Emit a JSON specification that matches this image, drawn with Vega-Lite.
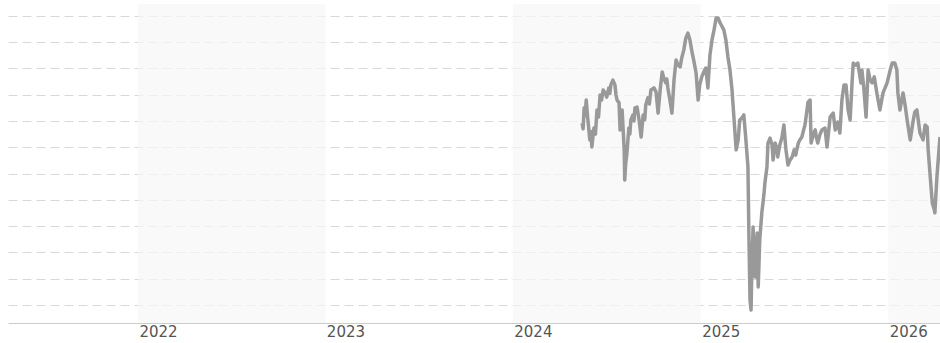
{
  "$schema": "https://vega.github.io/schema/vega-lite/v6.json",
  "autosize": {"type": "none"},
  "width": 932,
  "height": 319,
  "padding": {"left": 8, "top": 4, "right": 0, "bottom": 20},
  "background": "white",
  "config": {"view": {"stroke": null}},
  "datasets": {
    "bands": [
      {"start": "2022-01-01", "end": "2023-01-01"},
      {"start": "2024-01-01", "end": "2025-01-01"},
      {"start": "2026-01-01", "end": "2027-01-01"}
    ],
    "prices": [
      {"date": "2024-05-15", "value": 792},
      {"date": "2024-05-17", "value": 770},
      {"date": "2024-05-19", "value": 850},
      {"date": "2024-05-21", "value": 820},
      {"date": "2024-05-23", "value": 880},
      {"date": "2024-05-26", "value": 811},
      {"date": "2024-05-30", "value": 728},
      {"date": "2024-06-01", "value": 760},
      {"date": "2024-06-03", "value": 701},
      {"date": "2024-06-07", "value": 773},
      {"date": "2024-06-10", "value": 750},
      {"date": "2024-06-13", "value": 842},
      {"date": "2024-06-16", "value": 815},
      {"date": "2024-06-19", "value": 899},
      {"date": "2024-06-22", "value": 880},
      {"date": "2024-06-25", "value": 918},
      {"date": "2024-06-29", "value": 907},
      {"date": "2024-07-02", "value": 891},
      {"date": "2024-07-06", "value": 926},
      {"date": "2024-07-08", "value": 905},
      {"date": "2024-07-10", "value": 937},
      {"date": "2024-07-14", "value": 956},
      {"date": "2024-07-18", "value": 937},
      {"date": "2024-07-20", "value": 900},
      {"date": "2024-07-22", "value": 880},
      {"date": "2024-07-26", "value": 869},
      {"date": "2024-07-28", "value": 766},
      {"date": "2024-08-01", "value": 842},
      {"date": "2024-08-05", "value": 690},
      {"date": "2024-08-06", "value": 575},
      {"date": "2024-08-08", "value": 640},
      {"date": "2024-08-10", "value": 671},
      {"date": "2024-08-14", "value": 773},
      {"date": "2024-08-16", "value": 750},
      {"date": "2024-08-18", "value": 804},
      {"date": "2024-08-22", "value": 823},
      {"date": "2024-08-24", "value": 800},
      {"date": "2024-08-26", "value": 850},
      {"date": "2024-08-30", "value": 853},
      {"date": "2024-09-03", "value": 804},
      {"date": "2024-09-07", "value": 739},
      {"date": "2024-09-11", "value": 823},
      {"date": "2024-09-14", "value": 805},
      {"date": "2024-09-16", "value": 861},
      {"date": "2024-09-20", "value": 888},
      {"date": "2024-09-23", "value": 865},
      {"date": "2024-09-26", "value": 918},
      {"date": "2024-10-02", "value": 926},
      {"date": "2024-10-06", "value": 911},
      {"date": "2024-10-10", "value": 830},
      {"date": "2024-10-14", "value": 918},
      {"date": "2024-10-18", "value": 987},
      {"date": "2024-10-21", "value": 964},
      {"date": "2024-10-25", "value": 945},
      {"date": "2024-10-27", "value": 960},
      {"date": "2024-10-29", "value": 926},
      {"date": "2024-11-02", "value": 880},
      {"date": "2024-11-06", "value": 830},
      {"date": "2024-11-10", "value": 956},
      {"date": "2024-11-14", "value": 1032},
      {"date": "2024-11-18", "value": 1013},
      {"date": "2024-11-22", "value": 1006},
      {"date": "2024-11-25", "value": 1040},
      {"date": "2024-11-29", "value": 1070},
      {"date": "2024-12-03", "value": 1116},
      {"date": "2024-12-07", "value": 1135},
      {"date": "2024-12-11", "value": 1109},
      {"date": "2024-12-15", "value": 1063},
      {"date": "2024-12-19", "value": 1025},
      {"date": "2024-12-23", "value": 983},
      {"date": "2024-12-27", "value": 880},
      {"date": "2024-12-30", "value": 937},
      {"date": "2025-01-03", "value": 968},
      {"date": "2025-01-07", "value": 987},
      {"date": "2025-01-11", "value": 1002},
      {"date": "2025-01-15", "value": 926},
      {"date": "2025-01-19", "value": 1051},
      {"date": "2025-01-23", "value": 1109},
      {"date": "2025-01-27", "value": 1147},
      {"date": "2025-01-31", "value": 1192},
      {"date": "2025-02-04", "value": 1192},
      {"date": "2025-02-07", "value": 1177},
      {"date": "2025-02-11", "value": 1162},
      {"date": "2025-02-15", "value": 1147},
      {"date": "2025-02-19", "value": 1109},
      {"date": "2025-02-23", "value": 1044},
      {"date": "2025-02-27", "value": 994},
      {"date": "2025-03-03", "value": 918},
      {"date": "2025-03-07", "value": 804},
      {"date": "2025-03-11", "value": 690},
      {"date": "2025-03-15", "value": 728},
      {"date": "2025-03-18", "value": 804},
      {"date": "2025-03-22", "value": 811},
      {"date": "2025-03-26", "value": 823},
      {"date": "2025-03-30", "value": 728},
      {"date": "2025-04-03", "value": 625},
      {"date": "2025-04-05", "value": 347},
      {"date": "2025-04-07", "value": 118},
      {"date": "2025-04-09", "value": 80},
      {"date": "2025-04-11", "value": 271},
      {"date": "2025-04-13", "value": 396},
      {"date": "2025-04-17", "value": 206},
      {"date": "2025-04-21", "value": 373},
      {"date": "2025-04-23", "value": 168},
      {"date": "2025-04-26", "value": 347},
      {"date": "2025-04-30", "value": 450},
      {"date": "2025-05-04", "value": 518},
      {"date": "2025-05-06", "value": 564},
      {"date": "2025-05-10", "value": 625},
      {"date": "2025-05-12", "value": 716},
      {"date": "2025-05-16", "value": 735},
      {"date": "2025-05-20", "value": 709},
      {"date": "2025-05-22", "value": 651},
      {"date": "2025-05-26", "value": 716},
      {"date": "2025-05-30", "value": 690},
      {"date": "2025-05-31", "value": 663},
      {"date": "2025-06-04", "value": 709},
      {"date": "2025-06-08", "value": 735},
      {"date": "2025-06-12", "value": 785},
      {"date": "2025-06-16", "value": 690},
      {"date": "2025-06-20", "value": 632},
      {"date": "2025-06-24", "value": 651},
      {"date": "2025-06-28", "value": 663},
      {"date": "2025-07-02", "value": 690},
      {"date": "2025-07-05", "value": 670},
      {"date": "2025-07-07", "value": 690},
      {"date": "2025-07-10", "value": 715},
      {"date": "2025-07-13", "value": 728},
      {"date": "2025-07-17", "value": 739},
      {"date": "2025-07-23", "value": 785},
      {"date": "2025-07-27", "value": 842},
      {"date": "2025-07-29", "value": 872},
      {"date": "2025-08-02", "value": 880},
      {"date": "2025-08-04", "value": 716},
      {"date": "2025-08-08", "value": 747},
      {"date": "2025-08-12", "value": 766},
      {"date": "2025-08-14", "value": 740},
      {"date": "2025-08-17", "value": 716},
      {"date": "2025-08-21", "value": 747},
      {"date": "2025-08-25", "value": 766},
      {"date": "2025-08-31", "value": 773},
      {"date": "2025-09-04", "value": 701},
      {"date": "2025-09-10", "value": 815},
      {"date": "2025-09-16", "value": 830},
      {"date": "2025-09-20", "value": 766},
      {"date": "2025-09-25", "value": 796},
      {"date": "2025-09-29", "value": 754},
      {"date": "2025-10-03", "value": 880},
      {"date": "2025-10-07", "value": 937},
      {"date": "2025-10-11", "value": 937},
      {"date": "2025-10-15", "value": 842},
      {"date": "2025-10-19", "value": 804},
      {"date": "2025-10-23", "value": 956},
      {"date": "2025-10-25", "value": 1021},
      {"date": "2025-10-30", "value": 1013},
      {"date": "2025-11-03", "value": 1021},
      {"date": "2025-11-09", "value": 945},
      {"date": "2025-11-11", "value": 994},
      {"date": "2025-11-15", "value": 918},
      {"date": "2025-11-19", "value": 815},
      {"date": "2025-11-23", "value": 994},
      {"date": "2025-11-27", "value": 956},
      {"date": "2025-12-01", "value": 945},
      {"date": "2025-12-05", "value": 968},
      {"date": "2025-12-10", "value": 907},
      {"date": "2025-12-16", "value": 842},
      {"date": "2025-12-22", "value": 907},
      {"date": "2025-12-26", "value": 926},
      {"date": "2025-12-30", "value": 945},
      {"date": "2026-01-05", "value": 994},
      {"date": "2026-01-09", "value": 1021},
      {"date": "2026-01-14", "value": 1021},
      {"date": "2026-01-18", "value": 994},
      {"date": "2026-01-20", "value": 907},
      {"date": "2026-01-24", "value": 842},
      {"date": "2026-01-30", "value": 907},
      {"date": "2026-02-03", "value": 861},
      {"date": "2026-02-07", "value": 804},
      {"date": "2026-02-13", "value": 728},
      {"date": "2026-02-19", "value": 804},
      {"date": "2026-02-22", "value": 834},
      {"date": "2026-02-26", "value": 842},
      {"date": "2026-03-04", "value": 754},
      {"date": "2026-03-10", "value": 728},
      {"date": "2026-03-14", "value": 785},
      {"date": "2026-03-18", "value": 777},
      {"date": "2026-03-20", "value": 690},
      {"date": "2026-03-24", "value": 587},
      {"date": "2026-03-28", "value": 488},
      {"date": "2026-04-01", "value": 461},
      {"date": "2026-04-02", "value": 450},
      {"date": "2026-04-06", "value": 587},
      {"date": "2026-04-10", "value": 690},
      {"date": "2026-04-12", "value": 739}
    ]
  },
  "layer": [
    {
      "data": {"name": "bands"},
      "mark": {"type": "rect", "fill": "#f7f7f7", "opacity": 0.7, "clip": true},
      "encoding": {
        "x": {
          "field": "start",
          "type": "temporal",
          "scale": {"type": "utc", "domain": ["2021-04-23", "2026-04-12"]},
          "axis": {
            "values": [
              {"year": 2022, "month": 1, "date": 1, "utc": true},
              {"year": 2023, "month": 1, "date": 1, "utc": true},
              {"year": 2024, "month": 1, "date": 1, "utc": true},
              {"year": 2025, "month": 1, "date": 1, "utc": true},
              {"year": 2026, "month": 1, "date": 1, "utc": true}
            ],
            "format": "%Y",
            "title": null,
            "grid": false,
            "ticks": false,
            "domainColor": "#cccccc",
            "domainWidth": 1,
            "labelAlign": "left",
            "labelOffset": 1,
            "labelPadding": 1,
            "labelFont": "DejaVu Sans",
            "labelFontSize": 15,
            "labelColor": "#555555",
            "labelFlush": false,
            "labelOverlap": false
          }
        },
        "x2": {"field": "end"}
      }
    },
    {
      "data": {"name": "prices"},
      "mark": {"type": "line", "color": "#999999", "strokeWidth": 3.5, "clip": true, "strokeJoin": "round"},
      "encoding": {
        "x": {"field": "date", "type": "temporal"},
        "y": {
          "field": "value",
          "type": "quantitative",
          "scale": {"domain": [30.5, 1245.7], "nice": false, "zero": false},
          "axis": {
            "values": [100, 200, 300, 400, 500, 600, 700, 800, 900, 1000, 1100, 1200],
            "title": null,
            "labels": false,
            "ticks": false,
            "domain": false,
            "grid": true,
            "gridColor": "#d9d9d9",
            "gridDash": [9, 5],
            "gridWidth": 1
          }
        }
      }
    }
  ]
}
